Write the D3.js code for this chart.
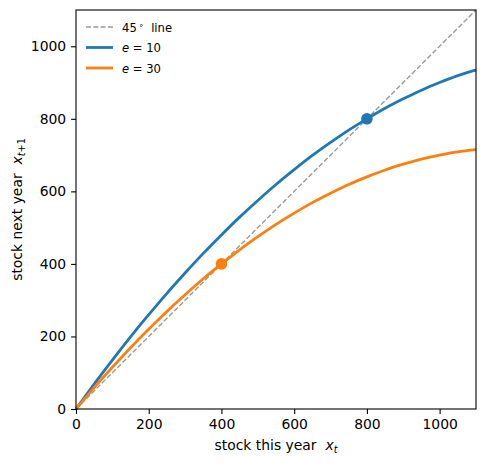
<!DOCTYPE html>
<html>
<head>
<meta charset="utf-8">
<script src="https://cdn.jsdelivr.net/npm/d3@7"></script>
<style>
  body { margin: 0; background: #fff; }
  svg { font-family: "DejaVu Sans", sans-serif; }
  svg text { white-space: pre; }
  .tick text { font-size: 13.9px; fill: #000; }
  .tick line { stroke: #000; stroke-width: 1.1; }
</style>
</head>
<body>
<div id="chart"></div>
<script>
// values
let stockNow = [0, 50, 100, 150, 200, 250, 300, 350, 400, 450, 500, 550, 600, 650, 700, 750, 800, 850, 900, 950, 1000, 1050, 1100];
let nextE10 = [0, 69, 135, 199, 260, 319, 375, 429, 480, 529, 575, 619, 660, 699, 735, 769, 800, 829, 855, 879, 900, 919, 935];
let nextE30 = [0, 59, 115, 169, 220, 269, 315, 359, 400, 439, 475, 509, 540, 569, 595, 619, 640, 659, 675, 689, 700, 709, 715];
let fixedPoints = [{ x: 800, y: 800, series: "e10" }, { x: 400, y: 400, series: "e30" }];
let ticks = [0, 200, 400, 600, 800, 1000];

let colors = { e10: "#1f77b4", e30: "#ff7f0e" };

let W = 486, H = 464;
let margin = { top: 10, right: 10, bottom: 55, left: 76 };

let svg = d3.select("#chart").append("svg")
  .attr("width", W)
  .attr("height", H);

let x = d3.scaleLinear().domain([0, 1100]).range([margin.left, W - margin.right]);
let y = d3.scaleLinear().domain([0, 1100]).range([H - margin.bottom, margin.top]);

let plot = svg.append("g");

// 45 degree line
plot.append("line")
  .attr("x1", x(0)).attr("y1", y(0))
  .attr("x2", x(1100)).attr("y2", y(1100))
  .attr("stroke", "#999")
  .attr("stroke-width", 1.39)
  .attr("stroke-dasharray", "5.1,2.2");

let line = d3.line()
  .x(d => x(d[0]))
  .y(d => y(d[1]))
  .curve(d3.curveCatmullRom);

let series = [
  { key: "e10", vals: nextE10 },
  { key: "e30", vals: nextE30 }
];

plot.selectAll("path.curve")
  .data(series)
  .join("path")
  .attr("class", "curve")
  .attr("fill", "none")
  .attr("stroke", d => colors[d.key])
  .attr("stroke-width", 2.78)
  .attr("d", d => line(stockNow.map((s, i) => [s, d.vals[i]])));

plot.selectAll("circle")
  .data(fixedPoints)
  .join("circle")
  .attr("cx", d => x(d.x))
  .attr("cy", d => y(d.y))
  .attr("r", 5.8)
  .attr("fill", d => colors[d.series]);

// axes
let xAxis = d3.axisBottom(x).tickValues(ticks).tickSize(4.9).tickPadding(4.9).tickFormat(d3.format("d"));
let yAxis = d3.axisLeft(y).tickValues(ticks).tickSize(4.9).tickPadding(4.9).tickFormat(d3.format("d"));

svg.append("g")
  .attr("transform", "translate(0," + (H - margin.bottom) + ")")
  .call(xAxis)
  .call(g => g.select(".domain").remove());

svg.append("g")
  .attr("transform", "translate(" + margin.left + ",0)")
  .call(yAxis)
  .call(g => g.select(".domain").remove());

svg.selectAll(".tick text").attr("font-family", "DejaVu Sans");

// frame, clipped so curves stay under it
svg.append("rect")
  .attr("x", x(0)).attr("y", y(1100))
  .attr("width", x(1100) - x(0))
  .attr("height", y(0) - y(1100))
  .attr("fill", "none")
  .attr("stroke", "#000")
  .attr("stroke-width", 1.1);

// axis labels
let xl = svg.append("text")
  .attr("x", (x(0) + x(1100)) / 2)
  .attr("y", 450)
  .attr("text-anchor", "middle")
  .attr("font-size", 13.9);
xl.append("tspan").text("stock this year  ");
xl.append("tspan").attr("font-style", "italic").text("x");
xl.append("tspan").attr("font-style", "italic").attr("font-size", 9.7).attr("dy", 3).text("t");

let yl = svg.append("text")
  .attr("transform", "translate(22," + ((y(0) + y(1100)) / 2) + ") rotate(-90)")
  .attr("text-anchor", "middle")
  .attr("font-size", 13.9);
yl.append("tspan").text("stock next year  ");
yl.append("tspan").attr("font-style", "italic").text("x");
yl.append("tspan").attr("font-size", 9.7).attr("dy", 3);
yl.select("tspan:last-child").append("tspan").attr("font-style", "italic").text("t");
yl.select("tspan:last-child").append("tspan").text("+1");

// legend
let legendRows = [
  { label: "45", key: "diag" },
  { label: "10", key: "e10" },
  { label: "30", key: "e30" }
];

let legend = svg.append("g").attr("transform", "translate(86,27)");
let row = legend.selectAll("g")
  .data(legendRows)
  .join("g")
  .attr("transform", (d, i) => "translate(0," + (i * 20.5) + ")");

row.append("line")
  .attr("x1", 0).attr("x2", 27)
  .attr("stroke", d => d.key === "diag" ? "#999" : colors[d.key])
  .attr("stroke-width", d => d.key === "diag" ? 1.39 : 2.78)
  .attr("stroke-dasharray", d => d.key === "diag" ? "5.1,2.2" : null);

row.each(function(d) {
  let t = d3.select(this).append("text")
    .attr("x", 36)
    .attr("y", 4.5)
    .attr("font-size", 11.6);
  if (d.key === "diag") {
    t.append("tspan").text(d.label);
    t.append("tspan").attr("font-size", 8).attr("dy", -4).attr("dx", 2).text("\u2218");
    t.append("tspan").attr("dy", 4).text("  line");
  } else {
    t.append("tspan").attr("font-style", "italic").text("e");
    t.append("tspan").text(" = " + d.label);
  }
});
</script>
</body>
</html>
